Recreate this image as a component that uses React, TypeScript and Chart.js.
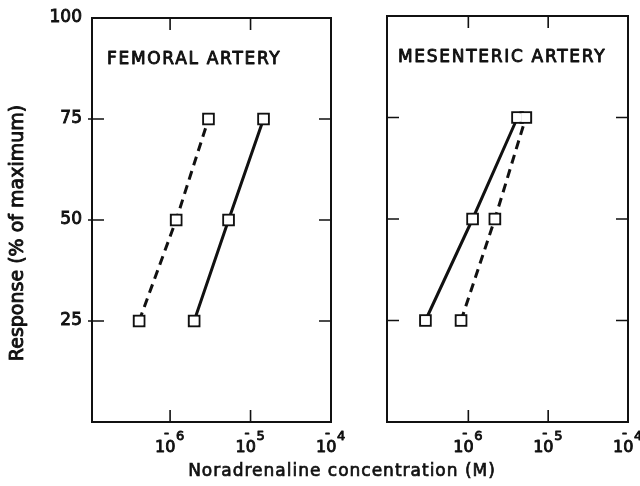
import React, { useEffect, useRef } from 'react';
import { Chart, registerables } from 'chart.js';

Chart.register(...registerables);

// ---- data ----
const RESPONSE = [25, 50, 75];
const FEMORAL_SOLID = [1.99e-6, 5.33e-6, 1.45e-5];
const FEMORAL_DASHED = [4.12e-7, 1.19e-6, 3.0e-6];
const MESENTERIC_SOLID = [2.9e-7, 1.13e-6, 4.13e-6];
const MESENTERIC_DASHED = [8.1e-7, 2.15e-6, 5.25e-6];
const X_TICKS = [1e-6, 1e-5, 1e-4];
const X_TICK_BASE = '10';
const X_TICK_EXP = ['6', '5', '4'];
const Y_TICKS = [25, 50, 75, 100];
const Y_TICK_LABELS = ['25', '50', '75', '100'];
const FEMORAL_TITLE = 'FEMORAL ARTERY';
const MESENTERIC_TITLE = 'MESENTERIC ARTERY';
const Y_TITLE = 'Response (% of maximum)';
const X_TITLE = 'Noradrenaline concentration (M)';

const INK = '#111111';
const FONT = "'DejaVu Sans', sans-serif";

function heavyText(ctx: any, text: string, x: number, y: number) {
  ctx.fillText(text, x, y);
  ctx.strokeText(text, x, y);
}

const framePlugin = {
  id: 'frame',
  afterDraw(chart: any, _args: any, opts: any) {
    const { ctx, chartArea: a, scales } = chart;
    const x = scales.x;
    const y = scales.y;
    ctx.save();
    ctx.strokeStyle = INK;
    ctx.lineWidth = 2;
    ctx.strokeRect(a.left, a.top, a.right - a.left, a.bottom - a.top);
    ctx.lineWidth = 1.6;
    ctx.beginPath();
    for (const v of Y_TICKS) {
      if (v >= 100) continue;
      const py = y.getPixelForValue(v);
      ctx.moveTo(a.left - opts.outward, py);
      ctx.lineTo(a.left + 12, py);
      ctx.moveTo(a.right - 12, py);
      ctx.lineTo(a.right + 1, py);
    }
    for (const v of X_TICKS) {
      const px = x.getPixelForValue(v);
      if (px > a.right - 3) continue;
      ctx.moveTo(px, a.top);
      ctx.lineTo(px, a.top + 12);
      ctx.moveTo(px, a.bottom);
      ctx.lineTo(px, a.bottom - 12);
    }
    ctx.stroke();

    ctx.fillStyle = INK;
    ctx.lineWidth = 0.9;
    ctx.lineJoin = 'round';
    // x tick labels: 10 with superscript exponent
    ctx.textAlign = 'left';
    ctx.textBaseline = 'alphabetic';
    X_TICKS.forEach((v, i) => {
      const px = x.getPixelForValue(v);
      ctx.font = `16px ${FONT}`;
      heavyText(ctx, X_TICK_BASE, px - 15, a.bottom + 30);
      ctx.font = `14px ${FONT}`;
      heavyText(ctx, '-', px - 6, a.bottom + 16);
      ctx.font = `13px ${FONT}`;
      heavyText(ctx, X_TICK_EXP[i], px + 6, a.bottom + 18);
    });

    // panel title
    ctx.font = `17px ${FONT}`;
    ctx.letterSpacing = '1.7px';
    ctx.textBaseline = 'middle';
    heavyText(ctx, opts.text, a.left + opts.dx, a.top + opts.dy);
    ctx.letterSpacing = '0px';

    if (opts.yTitle) {
      ctx.translate(18, (a.top + a.bottom) / 2 + 13);
      ctx.rotate(-Math.PI / 2);
      ctx.textAlign = 'center';
      ctx.font = `19px ${FONT}`;
      heavyText(ctx, opts.yTitle, 0, 0);
    }
    ctx.restore();
  },
};

function toPoints(xs: number[]) {
  return xs.map((c, i) => ({ x: c, y: RESPONSE[i] }));
}

function series(xs: number[], dashed: boolean) {
  return {
    data: toPoints(xs),
    order: 2,
    borderColor: INK,
    borderWidth: 3,
    borderDash: dashed ? [9, 6] : [],
    pointStyle: 'rect',
    pointRadius: 7.5,
    pointBackgroundColor: '#ffffff',
    pointBorderColor: INK,
    pointBorderWidth: 2,
    fill: false,
    tension: 0,
  };
}

// white marker interiors drawn on top so touching squares merge into one outline
function markerFill(xs: number[]) {
  return {
    data: toPoints(xs),
    order: 1,
    showLine: false,
    pointStyle: 'rect',
    pointRadius: 6,
    pointBackgroundColor: '#ffffff',
    pointBorderWidth: 0,
    pointBorderColor: 'rgba(0,0,0,0)',
  };
}

function makeConfig(p: {
  solid: number[];
  dashed: number[];
  xMin: number;
  yAxisWidth: number;
  top: number;
  right: number;
  showY: boolean;
  title: string;
  dx: number;
  dy: number;
  outward: number;
}) {
  return {
    type: 'line',
    data: {
      datasets: [
        series(p.dashed, true),
        series(p.solid, false),
        markerFill(p.dashed),
        markerFill(p.solid),
      ],
    },
    options: {
      animation: false,
      responsive: false,
      maintainAspectRatio: false,
      events: [],
      layout: { padding: { left: 0, top: p.top, right: p.right, bottom: 0 } },
      plugins: {
        legend: { display: false },
        tooltip: { enabled: false },
        frame: {
          text: p.title,
          dx: p.dx,
          dy: p.dy,
          outward: p.outward,
          yTitle: p.showY ? Y_TITLE : null,
        },
      },
      scales: {
        x: {
          type: 'logarithmic',
          min: p.xMin,
          max: 1e-4,
          grid: { display: false, drawTicks: false },
          border: { display: false },
          afterBuildTicks: (s: any) => {
            s.ticks = X_TICKS.map((v) => ({ value: v }));
          },
          ticks: { display: false },
          afterFit: (s: any) => {
            s.height = 64;
            s.paddingLeft = 0;
            s.paddingRight = 0;
          },
        },
        y: {
          type: 'linear',
          min: 0,
          max: 100,
          grid: { display: false, drawTicks: false },
          border: { display: false },
          afterBuildTicks: (s: any) => {
            s.ticks = Y_TICKS.map((v) => ({ value: v }));
          },
          ticks: {
            display: p.showY,
            padding: 10,
            color: INK,
            textStrokeColor: INK,
            textStrokeWidth: 0.9,
            font: { family: FONT, size: 17 },
            callback: (v: any) => {
              const i = Y_TICKS.indexOf(Number(v));
              return i >= 0 ? Y_TICK_LABELS[i] : '';
            },
          },
          afterFit: (s: any) => {
            s.width = p.yAxisWidth;
            s.paddingTop = 0;
            s.paddingBottom = 0;
          },
        },
      },
    },
    plugins: [framePlugin],
  } as any;
}

export default function App() {
  const leftRef = useRef<HTMLCanvasElement>(null);
  const rightRef = useRef<HTMLCanvasElement>(null);

  useEffect(() => {
    const left = new Chart(
      leftRef.current as HTMLCanvasElement,
      makeConfig({
        solid: FEMORAL_SOLID,
        dashed: FEMORAL_DASHED,
        xMin: 1.07e-7,
        yAxisWidth: 92,
        top: 18,
        right: 29,
        showY: true,
        title: FEMORAL_TITLE,
        dx: 15,
        dy: 42,
        outward: 4,
      })
    );
    const right = new Chart(
      rightRef.current as HTMLCanvasElement,
      makeConfig({
        solid: MESENTERIC_SOLID,
        dashed: MESENTERIC_DASHED,
        xMin: 9.57e-8,
        yAxisWidth: 37,
        top: 16,
        right: 12,
        showY: false,
        title: MESENTERIC_TITLE,
        dx: 11,
        dy: 42,
        outward: 0,
      })
    );
    return () => {
      left.destroy();
      right.destroy();
    };
  }, []);

  return (
    <div
      style={{
        position: 'fixed',
        left: 0,
        top: 0,
        width: 640,
        height: 486,
        background: '#ffffff',
        overflow: 'hidden',
      }}
    >
      <canvas
        ref={leftRef}
        width={360}
        height={486}
        style={{ position: 'absolute', left: 0, top: 0, width: 360, height: 486 }}
      />
      <canvas
        ref={rightRef}
        width={290}
        height={486}
        style={{ position: 'absolute', left: 350, top: 0, width: 290, height: 486 }}
      />
      <div
        style={{
          position: 'absolute',
          left: 0,
          width: 684,
          top: 459,
          textAlign: 'center',
          fontFamily: FONT,
          fontSize: 17,
          letterSpacing: '1px',
          WebkitTextStroke: '0.7px #111111',
          color: INK,
          lineHeight: '22px',
          whiteSpace: 'nowrap',
        }}
      >
        {X_TITLE}
      </div>
    </div>
  );
}
